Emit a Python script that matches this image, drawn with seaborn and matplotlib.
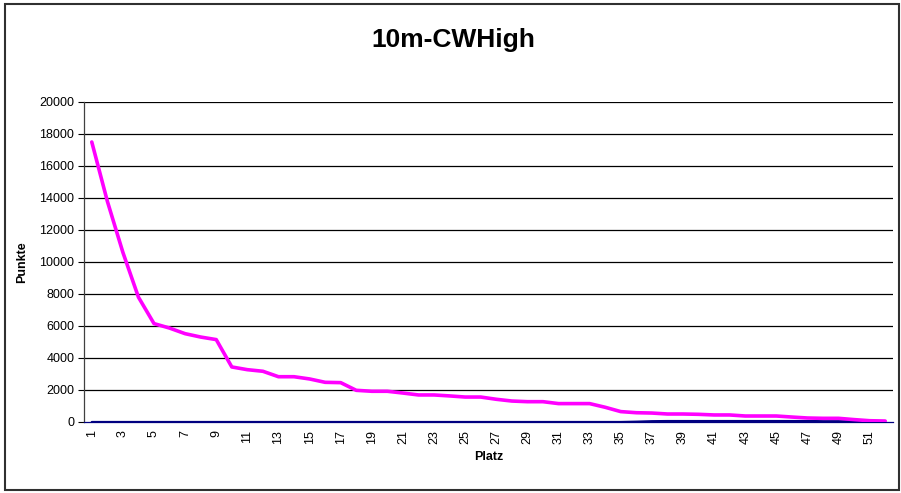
import numpy as np
import pandas as pd
import matplotlib
matplotlib.use("Agg")
import matplotlib.pyplot as plt
import seaborn as sns

# Platz 1..52
plaetze = list(range(1, 53))

# Punkte (pink series)
punkte = [17500, 13800, 10600, 7800, 6150, 5870, 5520, 5310, 5150, 3440,
          3270, 3170, 2830, 2830, 2690, 2480, 2460, 1980, 1920, 1920,
          1810, 1690, 1690, 1630, 1560, 1560, 1420, 1310, 1270, 1270,
          1150, 1150, 1150, 920, 650, 580, 560, 500, 500, 480,
          440, 440, 375, 375, 375, 310, 250, 230, 230, 150,
          80, 60]

# second (navy) series, almost zero
punkte2 = [0] * 35 + [20, 50, 60, 60, 60, 60, 60, 60, 60, 60,
                      60, 60, 50, 50, 40, 20, 0]

tick_labels = [str(i) for i in range(1, 52, 2)]

df = pd.DataFrame({"Platz": plaetze, "Punkte": punkte, "Punkte2": punkte2})

sns.set_style("white")
plt.rcParams["font.family"] = ["Liberation Sans", "DejaVu Sans"]
plt.rcParams["text.color"] = "black"
plt.rcParams["axes.labelcolor"] = "black"
plt.rcParams["xtick.color"] = "black"
plt.rcParams["ytick.color"] = "black"

fig = plt.figure(figsize=(9.01, 4.93), dpi=100)
ax = fig.add_axes([84 / 901, 71 / 493, 809 / 901, 320 / 493])

# horizontal grid lines
for v in range(2000, 20001, 2000):
    ax.axhline(v, color="black", lw=0.9, zorder=1)

sns.lineplot(data=df, x="Platz", y="Punkte2", ax=ax, color="#000080",
             lw=1.6, zorder=3)
sns.lineplot(data=df, x="Platz", y="Punkte", ax=ax, color="#ff00ff",
             lw=2.6, zorder=4)

ax.set_xlim(0.5, 52.5)
ax.set_ylim(0, 20000)
ax.set_yticks(range(0, 20001, 2000))
ax.set_yticklabels([str(v) for v in range(0, 20001, 2000)], fontsize=9)
ax.set_xticks(range(1, 52, 2))
ax.set_xticklabels(tick_labels, rotation=90, fontsize=9)
ax.tick_params(axis="y", length=4, width=0.8, color="black", pad=3, left=True)
ax.tick_params(axis="x", length=0, pad=6)

for s in ["top", "right"]:
    ax.spines[s].set_visible(False)
ax.spines["left"].set_color("#404040")
ax.spines["left"].set_linewidth(0.9)
ax.spines["bottom"].set_color("#000080")
ax.spines["bottom"].set_linewidth(0.9)

ax.set_xlabel("Platz", fontsize=9, fontweight="bold", labelpad=5)
ax.set_ylabel("Punkte", fontsize=9, fontweight="bold", labelpad=8)

fig.text(453 / 901, 1 - 40 / 493, "10m-CWHigh", ha="center", va="center",
         fontsize=19, fontweight="bold")

# outer chart border
border = plt.Rectangle((5 / 901, 3 / 493), 894 / 901, 486 / 493,
                       transform=fig.transFigure, fill=False,
                       edgecolor="#303030", lw=1.5)
fig.patches.append(border)

fig.savefig("out.png", dpi=100)
